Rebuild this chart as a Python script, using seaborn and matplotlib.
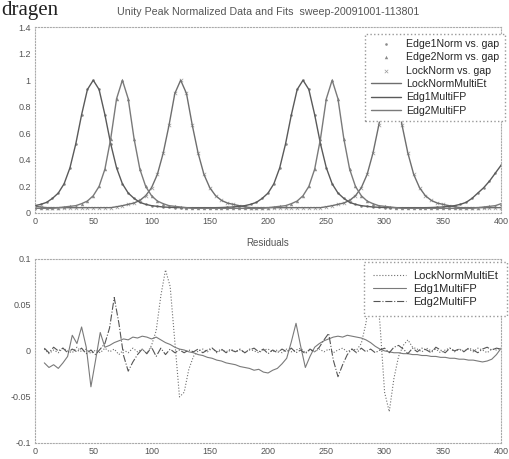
import matplotlib
matplotlib.use('Agg')
import matplotlib.pyplot as plt
import seaborn as sns
from matplotlib.ticker import FuncFormatter

# --- data ---
gap = list(range(0, 401, 5))

edge1 = [0.055, 0.065, 0.08, 0.11, 0.15, 0.22, 0.34, 0.52, 0.74, 0.93,
         1.0, 0.93, 0.74, 0.52, 0.34, 0.22, 0.15, 0.11, 0.08, 0.065,
         0.055, 0.05, 0.045, 0.043, 0.041, 0.04, 0.04, 0.04, 0.04, 0.04,
         0.04, 0.04, 0.041, 0.043, 0.045, 0.05, 0.055, 0.065, 0.08, 0.11,
         0.15, 0.22, 0.34, 0.52, 0.74, 0.93, 1.0, 0.93, 0.74, 0.52,
         0.34, 0.22, 0.15, 0.11, 0.08, 0.065, 0.055, 0.05, 0.045, 0.043,
         0.041, 0.04, 0.04, 0.04, 0.04, 0.04, 0.04, 0.04, 0.041, 0.043,
         0.045, 0.05, 0.055, 0.065, 0.08, 0.11, 0.15, 0.19, 0.24, 0.30,
         0.36]

edge2 = [0.035, 0.035, 0.035, 0.035, 0.04, 0.045, 0.05, 0.055, 0.07, 0.09,
         0.13, 0.2, 0.33, 0.56, 0.86, 1.0, 0.86, 0.56, 0.33, 0.2,
         0.13, 0.09, 0.07, 0.055, 0.05, 0.045, 0.04, 0.035, 0.035, 0.035,
         0.035, 0.035, 0.035, 0.035, 0.035, 0.035, 0.035, 0.035, 0.035, 0.035,
         0.04, 0.045, 0.05, 0.055, 0.07, 0.09, 0.13, 0.2, 0.33, 0.56,
         0.86, 1.0, 0.86, 0.56, 0.33, 0.2, 0.13, 0.09, 0.07, 0.055,
         0.05, 0.045, 0.04, 0.035, 0.035, 0.035, 0.035, 0.035, 0.035, 0.035,
         0.035, 0.035, 0.035, 0.035, 0.035, 0.035, 0.04, 0.045, 0.05, 0.055,
         0.07]

lock = [0.05, 0.045, 0.04, 0.04, 0.04, 0.04, 0.04, 0.04, 0.04, 0.04,
        0.04, 0.04, 0.04, 0.04, 0.047, 0.055, 0.065, 0.075, 0.095, 0.13,
        0.19, 0.29, 0.45, 0.66, 0.9, 1.0, 0.9, 0.66, 0.45, 0.29,
        0.19, 0.13, 0.095, 0.075, 0.065, 0.055, 0.047, 0.04, 0.04, 0.04,
        0.04, 0.04, 0.04, 0.04, 0.04, 0.04, 0.04, 0.04, 0.04, 0.04,
        0.047, 0.055, 0.065, 0.075, 0.095, 0.13, 0.19, 0.29, 0.45, 0.66,
        0.9, 1.0, 0.9, 0.66, 0.45, 0.29, 0.19, 0.13, 0.095, 0.075,
        0.065, 0.055, 0.047, 0.04, 0.04, 0.04, 0.04, 0.04, 0.04, 0.04,
        0.04]

# residuals
gap_res = list(range(8, 401, 4))

res_lock = [0.002, -0.003, 0.001, -0.002, 0.003, 0.000, -0.002, 0.004, -0.001, 0.002,
            -0.003, 0.001, -0.002, 0.003, -0.001, 0.002, -0.004, 0.001, -0.002, 0.003,
            -0.001, 0.002, -0.003, 0.006, 0.022, 0.060, 0.088, 0.070, 0.010, -0.050,
            -0.045, -0.020, -0.006, 0.000, 0.002, -0.001, 0.003, -0.002, 0.001, -0.001,
            0.002, -0.001, 0.001, -0.002, 0.002, 0.000, -0.002, 0.001, 0.002, -0.001,
            0.001, -0.002, 0.002, -0.001, 0.001, 0.003, -0.002, 0.001, -0.001, 0.002,
            -0.001, 0.002, -0.002, 0.001, 0.003, -0.001, 0.002, 0.001, 0.008, 0.030,
            0.070, 0.075, 0.030, -0.045, -0.066, -0.030, -0.006, 0.006, 0.012, 0.004,
            0.002, -0.001, 0.003, 0.000, 0.002, -0.002, 0.001, 0.003, -0.001, 0.002,
            0.000, 0.002, -0.001, 0.003, 0.001, -0.002, 0.002, 0.001, 0.003]

res_edg1 = [-0.013, -0.018, -0.015, -0.019, -0.013, -0.006, 0.017, 0.008, 0.026, 0.004,
            -0.039, -0.010, 0.020, 0.004, 0.006, 0.009, 0.011, 0.013, 0.012, 0.015,
            0.014, 0.016, 0.015, 0.013, 0.015, 0.012, 0.009, 0.007, 0.004, 0.002,
            0.001, -0.001, -0.002, -0.004, -0.005, -0.007, -0.008, -0.010, -0.011, -0.013,
            -0.014, -0.015, -0.017, -0.018, -0.019, -0.021, -0.020, -0.023, -0.024, -0.021,
            -0.019, -0.014, -0.008, 0.010, 0.030, 0.005, -0.018, -0.006, 0.004, 0.008,
            0.011, 0.013, 0.015, 0.016, 0.015, 0.017, 0.016, 0.015, 0.014, 0.012,
            0.009, 0.005, 0.002, 0.000, -0.001, -0.002, -0.002, -0.003, -0.003, -0.004,
            -0.004, -0.005, -0.005, -0.006, -0.006, -0.007, -0.007, -0.008, -0.008, -0.009,
            -0.009, -0.010, -0.010, -0.011, -0.012, -0.011, -0.009, -0.004, 0.003]

res_edg2 = [0.003, -0.002, 0.004, 0.000, 0.003, -0.002, 0.002, -0.001, 0.003, -0.003,
            0.001, -0.004, 0.002, 0.008, 0.025, 0.058, 0.030, -0.005, -0.022, -0.012,
            -0.004, 0.002, -0.003, 0.004, -0.006, 0.003, -0.004, 0.002, -0.002, 0.001,
            -0.002, 0.001, -0.001, 0.002, -0.002, 0.001, 0.003, -0.001, 0.002, -0.002,
            0.001, -0.001, 0.002, -0.002, 0.001, 0.003, -0.001, 0.002, -0.003, 0.001,
            -0.002, 0.002, -0.001, 0.003, -0.002, 0.001, -0.003, 0.002, -0.001, 0.004,
            0.012, 0.019, -0.010, -0.028, -0.015, -0.004, 0.002, -0.002, 0.003, -0.001,
            0.002, -0.002, 0.001, 0.003, -0.002, 0.004, 0.006, 0.002, -0.003, 0.003,
            -0.001, 0.003, 0.001, -0.002, 0.004, 0.001, -0.002, 0.003, 0.000, 0.002,
            -0.001, 0.003, 0.001, -0.002, 0.002, 0.004, 0.001, 0.003, 0.002]

sns.set_theme(style='white')
plt.rcParams['font.family'] = ['Liberation Sans', 'DejaVu Sans']

fig = plt.figure(figsize=(5.1, 4.59), dpi=100)
ax1 = fig.add_axes([0.0686, 0.536, 0.914, 0.405])
ax2 = fig.add_axes([0.0686, 0.035, 0.914, 0.401])

fmt = FuncFormatter(lambda v, p: '%g' % round(v, 3))

# top: normalized data + fits
sns.scatterplot(x=gap, y=edge1, ax=ax1, marker='.', s=14, color='#8a8a8a',
                edgecolor=None, linewidth=0, label='Edge1Norm vs. gap')
sns.scatterplot(x=gap, y=edge2, ax=ax1, marker='^', s=6, color='#8a8a8a',
                edgecolor=None, linewidth=0, label='Edge2Norm vs. gap')
sns.scatterplot(x=gap, y=lock, ax=ax1, marker='x', s=6, color='#9a9a9a',
                linewidth=0.5, label='LockNorm vs. gap')
sns.lineplot(x=gap, y=lock, ax=ax1, color='#6e6e6e', lw=1.0, label='LockNormMultiEt')
sns.lineplot(x=gap, y=edge1, ax=ax1, color='#5a5a5a', lw=1.0, label='Edg1MultiFP')
sns.lineplot(x=gap, y=edge2, ax=ax1, color='#7a7a7a', lw=1.0, label='Edg2MultiFP')

ax1.set_xlim(0, 400)
ax1.set_ylim(0, 1.4)
ax1.set_xticks(range(0, 401, 50))
ax1.set_yticks([0, 0.2, 0.4, 0.6, 0.8, 1.0, 1.2, 1.4])
ax1.set_title('Unity Peak Normalized Data and Fits  sweep-20091001-113801',
              fontsize=7.7, color='#555555', pad=9)
leg1 = ax1.legend(loc='upper right', bbox_to_anchor=(1.008, 0.965), fontsize=7.6,
                  frameon=True, fancybox=False, borderaxespad=0, labelspacing=0.32,
                  handlelength=2.9, handletextpad=0.5, borderpad=0.5, framealpha=1)
leg1.get_frame().set_edgecolor('#999999')
leg1.get_frame().set_linestyle(':')

# bottom: residuals
sns.lineplot(x=gap_res, y=res_lock, ax=ax2, color='#6e6e6e', lw=0.8,
             linestyle=':', label='LockNormMultiEt')
sns.lineplot(x=gap_res, y=res_edg1, ax=ax2, color='#7a7a7a', lw=0.8,
             label='Edg1MultiFP')
sns.lineplot(x=gap_res, y=res_edg2, ax=ax2, color='#555555', lw=0.8,
             linestyle='-.', label='Edg2MultiFP')

ax2.set_xlim(0, 400)
ax2.set_ylim(-0.1, 0.1)
ax2.set_xticks(range(0, 401, 50))
ax2.set_yticks([-0.1, -0.05, 0, 0.05, 0.1])
ax2.set_title('Residuals', fontsize=7, color='#555555', pad=9)
leg2 = ax2.legend(loc='upper right', bbox_to_anchor=(1.012, 0.985), fontsize=8.0,
                  frameon=True, fancybox=False, borderaxespad=0, labelspacing=0.3,
                  handlelength=3.0, handletextpad=0.6, borderpad=0.8, framealpha=1)
leg2.get_frame().set_edgecolor('#999999')
leg2.get_frame().set_linestyle(':')

for ax in (ax1, ax2):
    ax.xaxis.set_major_formatter(fmt)
    ax.yaxis.set_major_formatter(fmt)
    ax.set_xlabel('')
    ax.set_ylabel('')
    ax.tick_params(direction='in', length=2.5, width=0.5, color='#999999',
                   labelsize=6.5, labelcolor='#555555', pad=3)
    for s in ax.spines.values():
        s.set_color('#aaaaaa')
        s.set_linestyle(':')
        s.set_linewidth(0.8)

# scrap of the page text above the figure
fig.text(0.002, 0.967, 'dragen', fontsize=15, family='Liberation Serif',
         va='baseline', ha='left', color='#222222')

fig.savefig('out.png', dpi=100)
